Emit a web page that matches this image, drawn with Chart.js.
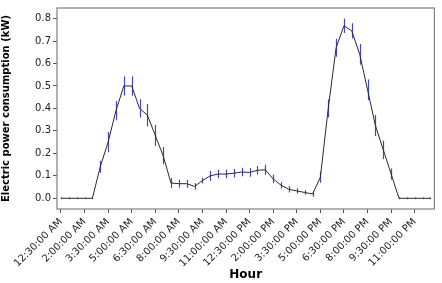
<!DOCTYPE html>
<html>
<head>
<meta charset="utf-8">
<script src="https://cdn.jsdelivr.net/npm/chart.js@4.4.1/dist/chart.umd.min.js"></script>
<style>
html,body{margin:0;padding:0;background:#fff;}
#wrap{width:442px;height:283px;}
</style>
</head>
<body>
<div id="wrap"><canvas id="c" width="442" height="283"></canvas></div>
<script>
const hours = ["12:30:00 AM","1:00:00 AM","1:30:00 AM","2:00:00 AM","2:30:00 AM","3:00:00 AM","3:30:00 AM","4:00:00 AM","4:30:00 AM","5:00:00 AM","5:30:00 AM","6:00:00 AM","6:30:00 AM","7:00:00 AM","7:30:00 AM","8:00:00 AM","8:30:00 AM","9:00:00 AM","9:30:00 AM","10:00:00 AM","10:30:00 AM","11:00:00 AM","11:30:00 AM","12:00:00 PM","12:30:00 PM","1:00:00 PM","1:30:00 PM","2:00:00 PM","2:30:00 PM","3:00:00 PM","3:30:00 PM","4:00:00 PM","4:30:00 PM","5:00:00 PM","5:30:00 PM","6:00:00 PM","6:30:00 PM","7:00:00 PM","7:30:00 PM","8:00:00 PM","8:30:00 PM","9:00:00 PM","9:30:00 PM","10:00:00 PM","10:30:00 PM","11:00:00 PM","11:30:00 PM","12:00:00 AM"];
const power = [0,0,0,0,0,0.14,0.25,0.39,0.50,0.50,0.40,0.37,0.28,0.19,0.068,0.065,0.065,0.053,0.079,0.10,0.108,0.108,0.112,0.117,0.115,0.125,0.127,0.086,0.058,0.040,0.033,0.026,0.019,0.094,0.40,0.67,0.768,0.745,0.641,0.483,0.324,0.216,0.108,0,0,0,0,0];
const powerErr = [0.004,0.004,0.004,0.004,0.004,0.027,0.045,0.043,0.043,0.043,0.041,0.05,0.047,0.038,0.022,0.018,0.018,0.014,0.013,0.022,0.019,0.019,0.019,0.019,0.019,0.019,0.022,0.019,0.014,0.014,0.012,0.01,0.012,0.025,0.04,0.04,0.032,0.034,0.046,0.046,0.047,0.041,0.025,0.004,0.004,0.004,0.004,0.004];
const yTicks = [0,0.1,0.2,0.3,0.4,0.5,0.6,0.7,0.8];

const errorBars = {
  id:'errorBars',
  beforeDatasetsDraw(chart){
    const ctx = chart.ctx, xs = chart.scales.x, ys = chart.scales.y;
    ctx.save();
    ctx.strokeStyle = '#4545c8';
    ctx.lineWidth = 1.2;
    power.forEach((v,i)=>{
      const x = xs.getPixelForValue(i);
      const y1 = ys.getPixelForValue(v - powerErr[i]);
      const y2 = ys.getPixelForValue(v + powerErr[i]);
      ctx.beginPath();
      ctx.moveTo(Math.round(x)+0.5, y1);
      ctx.lineTo(Math.round(x)+0.5, y2);
      ctx.stroke();
    });
    ctx.restore();
  }
};
const frame = {
  id:'frame',
  afterDraw(chart){
    const a = chart.chartArea, ctx = chart.ctx;
    ctx.save();
    ctx.strokeStyle = '#808080';
    ctx.lineWidth = 1.2;
    ctx.strokeRect(a.left, a.top, a.right - a.left, a.bottom - a.top);
    ctx.restore();
  }
};

new Chart(document.getElementById('c'), {
  type:'line',
  data:{
    labels: hours,
    datasets:[{
      data: power,
      borderColor:'#2a2a2a',
      borderWidth:1,
      pointRadius:0,
      tension:0,
      fill:false
    }]
  },
  options:{
    responsive:false,
    animation:false,
    devicePixelRatio:1,
    layout:{padding:{top:3,right:6,left:0,bottom:0}},
    plugins:{legend:{display:false},tooltip:{enabled:false}},
    scales:{
      x:{
        offset:true,
        afterFit(s){ s.height = 74; },
        grid:{drawOnChartArea:false, tickLength:4, color:(c)=> (c.index%3===0 ? '#555' : 'rgba(0,0,0,0)')},
        border:{display:false},
        ticks:{
          autoSkip:false, minRotation:45, maxRotation:45, padding:3,
          color:'#222', font:{family:'DejaVu Sans', size:10},
          callback(v,i){ return i%3===0 ? hours[i] : ''; }
        },
        title:{display:true, text:'Hour', color:'#000', font:{family:'DejaVu Sans', size:12, weight:'bold'}, padding:{top:0,bottom:1}}
      },
      y:{
        min:-0.0476, max:0.847,
        afterFit(s){ s.width = 57; },
        afterBuildTicks(s){ s.ticks = yTicks.map(v=>({value:v})); },
        grid:{drawOnChartArea:false, tickLength:4, color:'#555'},
        border:{display:false},
        ticks:{padding:2, color:'#222', font:{family:'DejaVu Sans', size:10}, callback:(v)=>Number(v).toFixed(1)},
        title:{display:true, text:'Electric power consumption (kW)', color:'#000', font:{family:'DejaVu Sans', size:10, weight:'bold'}, padding:{top:0,bottom:2}}
      }
    }
  },
  plugins:[errorBars, frame]
});
</script>
</body>
</html>
